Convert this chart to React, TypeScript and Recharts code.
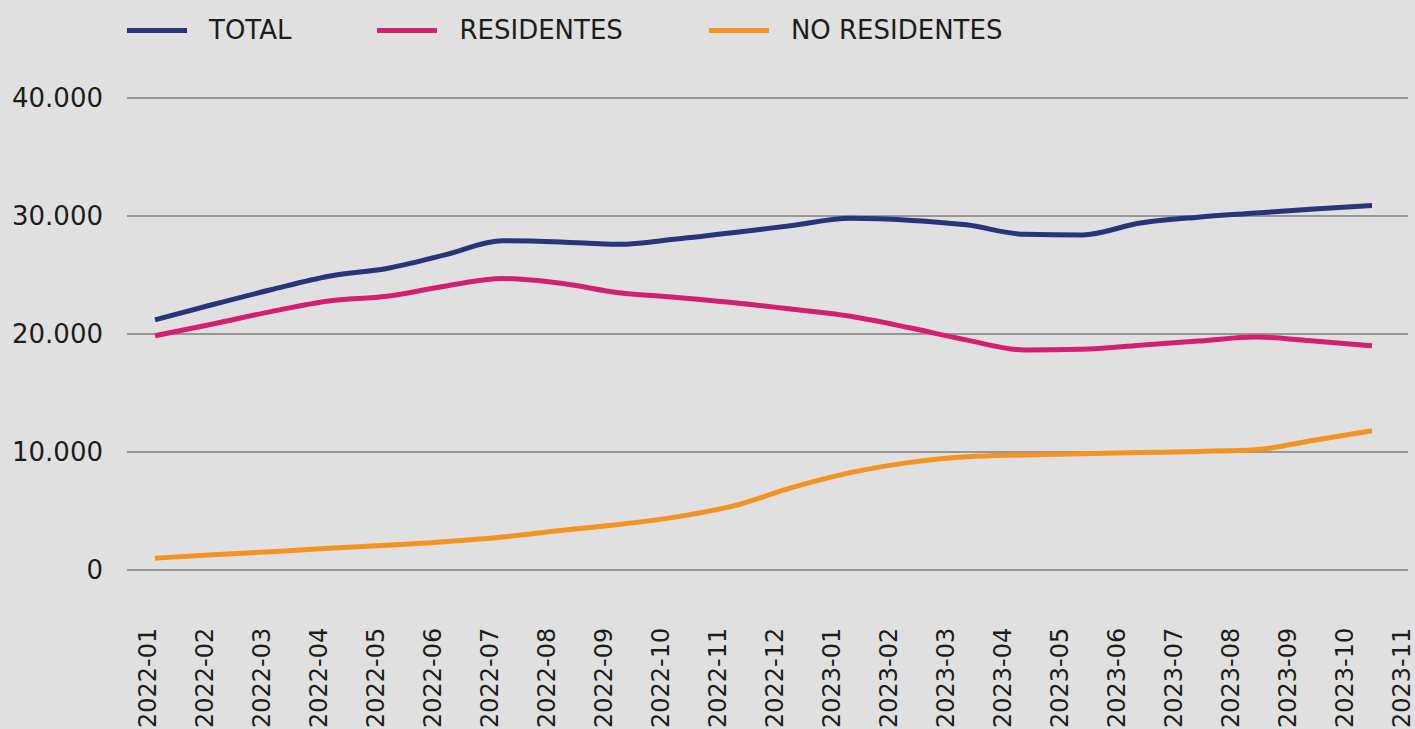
import { LineChart, Line, XAxis, YAxis, CartesianGrid, Legend } from "recharts";

const months = [
  "2022-01", "2022-02", "2022-03", "2022-04", "2022-05", "2022-06",
  "2022-07", "2022-08", "2022-09", "2022-10", "2022-11", "2022-12",
  "2023-01", "2023-02", "2023-03", "2023-04", "2023-05", "2023-06",
  "2023-07", "2023-08", "2023-09", "2023-10", "2023-11",
];

const total = [
  21200, 22500, 23750, 24900, 25550, 26700, 27900, 27800, 27600, 28050, 28600,
  29200, 29800, 29650, 29250, 28450, 28400, 29400, 29900, 30250, 30600, 30900,
];
const residentes = [
  19850, 20850, 21900, 22800, 23200, 24050, 24700, 24300, 23500, 23100, 22650,
  22100, 21500, 20550, 19500, 18650, 18700, 19050, 19400, 19750, 19400, 19000,
];
const noResidentes = [
  1000, 1300, 1550, 1850, 2100, 2400, 2800, 3350, 3850, 4500, 5450,
  7000, 8250, 9100, 9600, 9750, 9850, 9950, 10050, 10200, 11000, 11800,
];

const yTicks = [0, 10000, 20000, 30000, 40000];

const series = [
  { key: "total", name: "TOTAL", color: "#263679" },
  { key: "residentes", name: "RESIDENTES", color: "#d31f72" },
  { key: "noResidentes", name: "NO RESIDENTES", color: "#f39322" },
];

const data = total.map((t, i) => ({
  idx: i,
  month: months[i],
  total: t,
  residentes: residentes[i],
  noResidentes: noResidentes[i],
}));

const TEXT = "#1d1d1b";

const fmt = (v: number) => String(v).replace(/\B(?=(\d{3})+(?!\d))/g, ".");

const MonthTick = ({ x, y, payload }: any) => {
  const tx = x + 9;
  const ty = y + 150;
  return (
    <text
      x={tx}
      y={ty}
      transform={`rotate(-90, ${tx}, ${ty})`}
      textAnchor="start"
      fontSize={24}
      fill={TEXT}
    >
      {months[payload.value]}
    </text>
  );
};

const LegendBox = () => (
  <div style={{ height: 60, display: "flex", alignItems: "center", paddingLeft: 127 }}>
    {series.map((s) => (
      <div key={s.key} style={{ display: "flex", alignItems: "center", marginRight: 86 }}>
        <div style={{ width: 60, height: 5, background: s.color, marginRight: 22 }} />
        <span style={{ fontSize: 26, color: TEXT }}>{s.name}</span>
      </div>
    ))}
  </div>
);

export default function App() {
  return (
    <div
      style={{
        position: "absolute",
        left: 0,
        top: 0,
        width: 1415,
        height: 729,
        background: "#e0e0e0",
        fontFamily: "'DejaVu Sans', sans-serif",
        overflow: "hidden",
      }}
    >
      <LineChart width={1415} height={729} data={data} margin={{ top: 38, right: 7, left: 0, bottom: 0 }}>
        <Legend
          verticalAlign="top"
          width={1415}
          wrapperStyle={{ top: 0, left: 0 }}
          content={<LegendBox />}
        />
        <CartesianGrid vertical={false} stroke="#7f7f7f" strokeWidth={1.3} />
        <XAxis
          type="number"
          dataKey="idx"
          domain={[0, 22]}
          ticks={months.map((_, i) => i)}
          interval={0}
          padding={{ left: 20, right: 7 }}
          axisLine={false}
          tickLine={false}
          height={159}
          tick={<MonthTick />}
        />
        <XAxis xAxisId="data" dataKey="month" hide padding={{ left: 28, right: 36 }} />
        <YAxis
          domain={[0, 40000]}
          ticks={yTicks}
          tickFormatter={fmt}
          width={127}
          axisLine={false}
          tickLine={false}
          tickSize={0}
          tickMargin={24}
          tick={{ fontSize: 26, fill: TEXT }}
        />
        {series.map((s) => (
          <Line
            key={s.key}
            xAxisId="data"
            type="monotone"
            dataKey={s.key}
            name={s.name}
            stroke={s.color}
            strokeWidth={5}
            dot={false}
            activeDot={false}
            isAnimationActive={false}
          />
        ))}
      </LineChart>
    </div>
  );
}
